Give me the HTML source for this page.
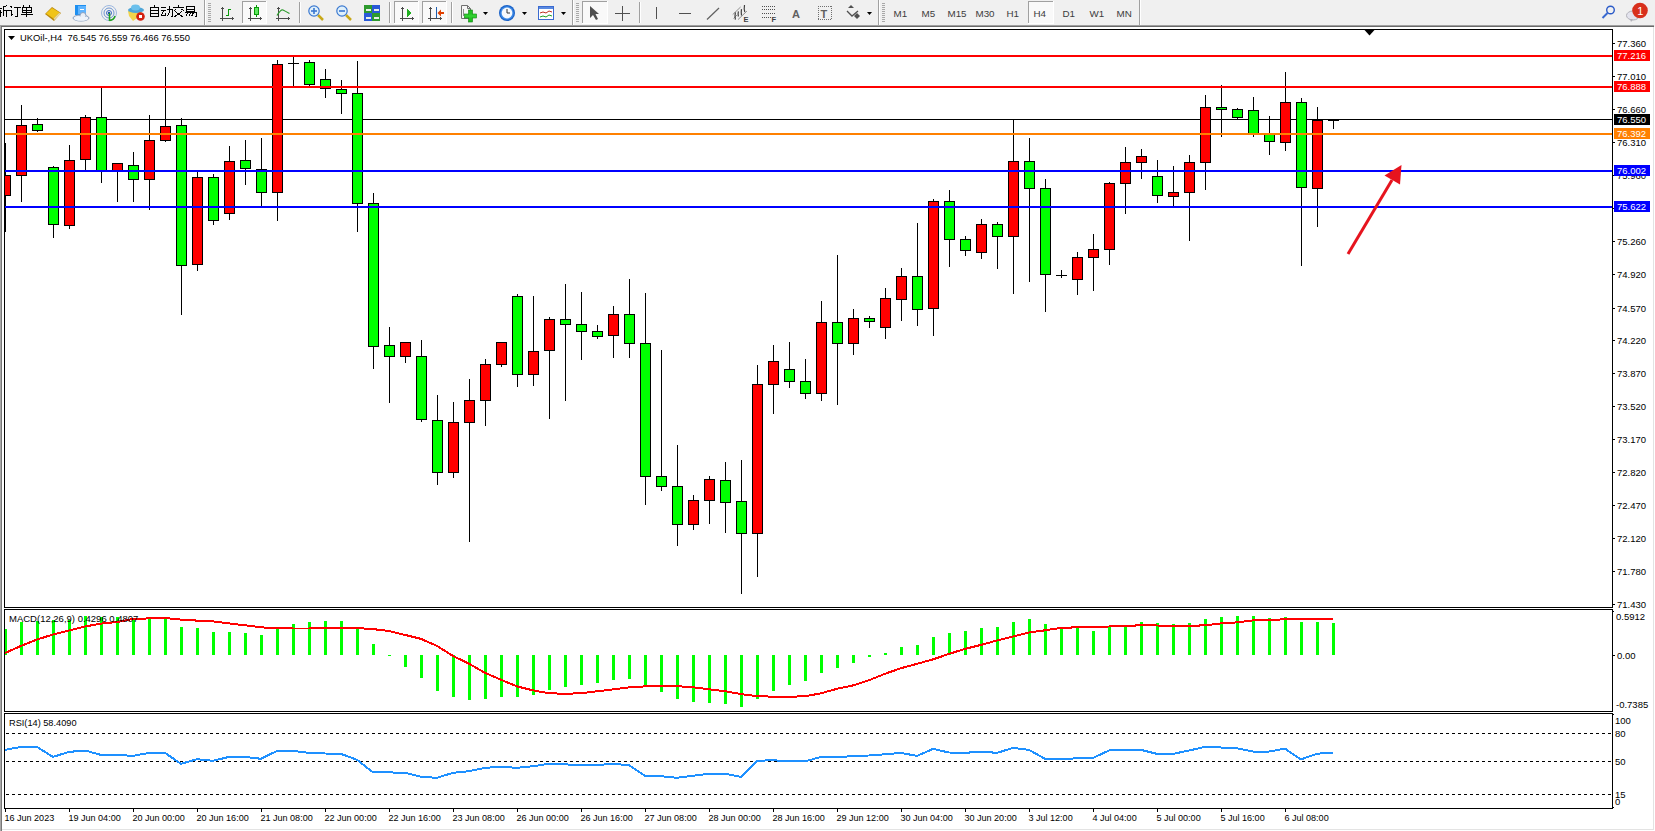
<!DOCTYPE html>
<html><head><meta charset="utf-8"><title>MT4</title>
<style>
html,body{margin:0;padding:0;width:1655px;height:831px;overflow:hidden;background:#f0f0f0;}
svg{position:absolute;left:0;top:0;display:block;}
text{font-family:"Liberation Sans",sans-serif;}
</style></head><body>
<svg width="1655" height="831" viewBox="0 0 1655 831" shape-rendering="crispEdges">
<rect x="0" y="0" width="1655" height="25" fill="#f0f0f0"/>
<path d="M0,8.5H2 M0,12.5H2 M0.5,10V17 M7,5.5L3.5,7 M3.5,7V11 M3,10.5H11 M3.5,11L3,16.5 M6.5,10.5V17 M10.5,6L12,7.5 M11.5,10V15.5L13,14 M13.5,7.5H21 M17.5,7.5V16.5H15 M23,5.5L24,7 M30,5.5L29,7 M22.5,7.5H31.5V12.5H22.5Z M22.5,10H31.5 M26.5,7.5V17 M21,14.5H33" stroke="#000" stroke-width="1" fill="none"/>
<path d="M154.5,5V7 M150.5,7.5H158.5V16.5H150.5Z M150.5,10.5H158.5 M150.5,13.5H158.5 M161,7.5H166 M161,10.5H166 M163.5,10.5L161.5,15.5H166 M165,13.5L166,15.5 M167,9.5H172.5V16L171,17 M169.5,6V12L167.5,16.5 M178.5,5V7 M173,7.5H184 M176,9L174,11 M181.5,9L184,11 M175,11.5L183,17 M182,11.5L174,17 M186.5,6.5H194.5V11.5H186.5Z M186.5,9H194.5 M185,12.5H196V16.5L195,17 M188,12.5L186,16 M191,12.5L188.5,16.5 M193.5,12.5L191.5,16.5" stroke="#000" stroke-width="1" fill="none"/>
<g shape-rendering="geometricPrecision"><polygon points="45,14 52,7 61,13 54,21" fill="#b8860b"/><polygon points="46,13.5 52,8 59.5,12.5 53.5,18.5" fill="#f0c419"/><polygon points="53.5,18.5 59.5,12.5 60.5,14 54.5,20" fill="#e8d9a0"/></g>
<g shape-rendering="geometricPrecision"><rect x="75" y="5" width="11" height="10" fill="#1e8ff0"/><rect x="78" y="6" width="8" height="8" fill="#5fb4ff"/><rect x="80" y="9" width="4" height="1" fill="#ffffff"/><ellipse cx="81" cy="18" rx="8" ry="3" fill="#e8eef6" stroke="#8aa0c0"/><circle cx="83" cy="15.5" r="3" fill="#e8eef6" stroke="#8aa0c0"/><ellipse cx="81" cy="18.5" rx="7" ry="2.3" fill="#eef3fa"/></g>
<g shape-rendering="geometricPrecision" fill="none"><circle cx="109" cy="13" r="7.5" stroke="#9db8e0" stroke-width="1"/><circle cx="109" cy="13" r="5" stroke="#6d94d0" stroke-width="1"/><circle cx="109" cy="13" r="2.5" stroke="#3d6cc0" stroke-width="1"/><circle cx="109" cy="13" r="1.2" fill="#1e50b0"/><path d="M109.5,13V21 M109.5,20.5Q114,20 115,16" stroke="#20a020" stroke-width="1.5"/></g>
<g shape-rendering="geometricPrecision"><polygon points="128,11 142,11 140,16 133,21 129,16" fill="#f2d44c"/><ellipse cx="136" cy="10" rx="8" ry="3" fill="#4fa6d8"/><ellipse cx="135.5" cy="7.5" rx="4.5" ry="3" fill="#6cc0ec"/><circle cx="140.5" cy="16.5" r="4.3" fill="#d42010"/><rect x="139" y="15" width="3" height="3" fill="#fff"/></g>
<rect x="204" y="0" width="1" height="25" fill="#a0a0a0"/>
<rect x="205" y="0" width="1" height="25" fill="#ffffff"/>
<rect x="208" y="3" width="3" height="1" fill="#a8a8a8"/>
<rect x="208" y="5" width="3" height="1" fill="#a8a8a8"/>
<rect x="208" y="7" width="3" height="1" fill="#a8a8a8"/>
<rect x="208" y="9" width="3" height="1" fill="#a8a8a8"/>
<rect x="208" y="11" width="3" height="1" fill="#a8a8a8"/>
<rect x="208" y="13" width="3" height="1" fill="#a8a8a8"/>
<rect x="208" y="15" width="3" height="1" fill="#a8a8a8"/>
<rect x="208" y="17" width="3" height="1" fill="#a8a8a8"/>
<rect x="208" y="19" width="3" height="1" fill="#a8a8a8"/>
<rect x="208" y="21" width="3" height="1" fill="#a8a8a8"/>
<g fill="#4a4a4a"><rect x="222" y="7" width="1" height="14"/><rect x="220" y="18" width="14" height="1"/><rect x="221" y="8" width="3" height="1"/><rect x="232" y="17" width="1" height="3"/></g>
<path d="M228.5,9V16 M228.5,9.5H231 M226,15.5H228.5" stroke="#0a9a0a" stroke-width="1" fill="none"/>
<rect x="242" y="1" width="25" height="23" fill="#f9f9f9"/>
<rect x="242" y="1" width="24" height="1" fill="#a0a0a0"/>
<rect x="242" y="1" width="1" height="22" fill="#a0a0a0"/>
<rect x="266" y="1" width="1" height="23" fill="#ffffff"/>
<rect x="242" y="23" width="25" height="1" fill="#ffffff"/>
<g fill="#4a4a4a"><rect x="250" y="7" width="1" height="14"/><rect x="248" y="18" width="14" height="1"/><rect x="249" y="8" width="3" height="1"/><rect x="260" y="17" width="1" height="3"/></g>
<path d="M256.5,5V17" stroke="#0a9a0a"/><rect x="254.5" y="7.5" width="4" height="7" fill="#60e860" stroke="#0a9a0a"/>
<g fill="#4a4a4a"><rect x="278" y="7" width="1" height="14"/><rect x="276" y="18" width="14" height="1"/><rect x="277" y="8" width="3" height="1"/><rect x="288" y="17" width="1" height="3"/></g>
<path d="M277,15.5 Q281,9 283,10 T289.5,13.5" stroke="#2a9a2a" fill="none" stroke-width="1.2" shape-rendering="geometricPrecision"/>
<rect x="299" y="2" width="1" height="21" fill="#a0a0a0"/>
<rect x="300" y="2" width="1" height="21" fill="#ffffff"/>
<g shape-rendering="geometricPrecision"><line x1="318" y1="15" x2="323" y2="20" stroke="#c8a818" stroke-width="2.5"/><circle cx="314" cy="11" r="5.2" fill="#dff0fb" stroke="#3a78d0" stroke-width="1.2"/><rect x="311" y="10.2" width="6" height="1.6" fill="#3a78d0"/><rect x="313.2" y="8" width="1.6" height="6" fill="#3a78d0"/></g>
<g shape-rendering="geometricPrecision"><line x1="346" y1="15" x2="351" y2="20" stroke="#c8a818" stroke-width="2.5"/><circle cx="342" cy="11" r="5.2" fill="#dff0fb" stroke="#3a78d0" stroke-width="1.2"/><rect x="339" y="10.2" width="6" height="1.6" fill="#3a78d0"/></g>
<rect x="364" y="5" width="8" height="8" fill="#2e9a2e"/>
<rect x="372" y="5" width="8" height="8" fill="#2a5ad8"/>
<rect x="364" y="13" width="8" height="8" fill="#2a5ad8"/>
<rect x="372" y="13" width="8" height="8" fill="#2e9a2e"/>
<rect x="366" y="9" width="5" height="2" fill="#e8f0e8"/>
<rect x="374" y="9" width="5" height="2" fill="#e8f0e8"/>
<rect x="366" y="17" width="5" height="2" fill="#e8f0e8"/>
<rect x="374" y="17" width="5" height="2" fill="#e8f0e8"/>
<rect x="389" y="2" width="1" height="21" fill="#a0a0a0"/>
<rect x="390" y="2" width="1" height="21" fill="#ffffff"/>
<rect x="394" y="1" width="25" height="23" fill="#f9f9f9"/>
<rect x="394" y="1" width="24" height="1" fill="#a0a0a0"/>
<rect x="394" y="1" width="1" height="22" fill="#a0a0a0"/>
<rect x="418" y="1" width="1" height="23" fill="#ffffff"/>
<rect x="394" y="23" width="25" height="1" fill="#ffffff"/>
<g fill="#4a4a4a"><rect x="402" y="7" width="1" height="14"/><rect x="400" y="18" width="14" height="1"/><rect x="401" y="8" width="3" height="1"/><rect x="412" y="17" width="1" height="3"/></g>
<polygon points="407,9 407,17 411.5,13" fill="#20b020"/>
<rect x="422" y="1" width="25" height="23" fill="#f9f9f9"/>
<rect x="422" y="1" width="24" height="1" fill="#a0a0a0"/>
<rect x="422" y="1" width="1" height="22" fill="#a0a0a0"/>
<rect x="446" y="1" width="1" height="23" fill="#ffffff"/>
<rect x="422" y="23" width="25" height="1" fill="#ffffff"/>
<g fill="#4a4a4a"><rect x="430" y="7" width="1" height="14"/><rect x="428" y="18" width="14" height="1"/><rect x="429" y="8" width="3" height="1"/><rect x="440" y="17" width="1" height="3"/></g>
<path d="M436.5,7V18" stroke="#2060b0"/><polygon points="437.5,13 441,9.5 441,12 444,12 444,14 441,14 441,16.5" fill="#e04000" shape-rendering="geometricPrecision"/>
<rect x="451" y="2" width="1" height="21" fill="#a0a0a0"/>
<rect x="452" y="2" width="1" height="21" fill="#ffffff"/>
<g shape-rendering="geometricPrecision"><path d="M461.5,5.5H467.5L470.5,8.5V18.5H461.5Z" fill="#f6f6f6" stroke="#707070"/><path d="M467.5,5.5V8.5H470.5" fill="none" stroke="#707070"/><path d="M463.5,9V16" stroke="#909090"/><rect x="464.5" y="14" width="12" height="4" fill="#22c022" stroke="#108010" stroke-width="0.6"/><rect x="468.5" y="10" width="4" height="12" fill="#22c022" stroke="#108010" stroke-width="0.6"/><rect x="465" y="14.5" width="11" height="3" fill="#30d030"/></g>
<polygon points="483,12 488,12 485.5,15" fill="#000" shape-rendering="geometricPrecision"/>
<g shape-rendering="geometricPrecision"><circle cx="507" cy="13" r="8" fill="#1a62c8"/><circle cx="507" cy="13" r="6.8" fill="#3d8ae6"/><circle cx="507" cy="13" r="5.4" fill="#f6f9fd"/><path d="M507,9V13H510" stroke="#333" stroke-width="1" fill="none"/></g>
<polygon points="522,12 527,12 524.5,15" fill="#000" shape-rendering="geometricPrecision"/>
<rect x="538.5" y="6.5" width="15" height="13" fill="#ffffff" stroke="#3a6ad0"/><rect x="539" y="7" width="14" height="2" fill="#5a8ae0"/><path d="M540,13L543,12L546,13L549,11L552,12" stroke="#c03020" fill="none" shape-rendering="geometricPrecision"/><path d="M540,17L543,16L546,17L549,15L552,16" stroke="#20a020" fill="none" shape-rendering="geometricPrecision"/>
<polygon points="561,12 566,12 563.5,15" fill="#000" shape-rendering="geometricPrecision"/>
<rect x="572" y="0" width="1" height="25" fill="#a0a0a0"/>
<rect x="573" y="0" width="1" height="25" fill="#ffffff"/>
<rect x="576" y="3" width="3" height="1" fill="#a8a8a8"/>
<rect x="576" y="5" width="3" height="1" fill="#a8a8a8"/>
<rect x="576" y="7" width="3" height="1" fill="#a8a8a8"/>
<rect x="576" y="9" width="3" height="1" fill="#a8a8a8"/>
<rect x="576" y="11" width="3" height="1" fill="#a8a8a8"/>
<rect x="576" y="13" width="3" height="1" fill="#a8a8a8"/>
<rect x="576" y="15" width="3" height="1" fill="#a8a8a8"/>
<rect x="576" y="17" width="3" height="1" fill="#a8a8a8"/>
<rect x="576" y="19" width="3" height="1" fill="#a8a8a8"/>
<rect x="576" y="21" width="3" height="1" fill="#a8a8a8"/>
<rect x="582" y="1" width="26" height="23" fill="#f9f9f9"/>
<rect x="582" y="1" width="25" height="1" fill="#a0a0a0"/>
<rect x="582" y="1" width="1" height="22" fill="#a0a0a0"/>
<rect x="607" y="1" width="1" height="23" fill="#ffffff"/>
<rect x="582" y="23" width="26" height="1" fill="#ffffff"/>
<polygon points="590,6 590,18 593,15 596,20 598,19 595.5,14 599,14" fill="#505050" shape-rendering="geometricPrecision"/>
<path d="M622.5,6V21 M615,13.5H630" stroke="#505050"/>
<rect x="639" y="2" width="1" height="21" fill="#a0a0a0"/>
<rect x="640" y="2" width="1" height="21" fill="#ffffff"/>
<path d="M656.5,7V19" stroke="#505050" stroke-width="1.3"/>
<path d="M679,13.5H691" stroke="#505050" stroke-width="1.3"/>
<path d="M707,19.5L719,8" stroke="#606060" stroke-width="1.2" shape-rendering="geometricPrecision"/>
<g stroke-width="1" fill="none" shape-rendering="geometricPrecision"><path d="M732.7,14.6L740.6,7 M738,19.6L746.9,11.1 M733.5,18.5L737,15" stroke="#909090"/><path d="M735.4,12.4Q734.6,16 735.4,19.6 M738.4,11.4Q737.8,14 738.4,16.5 M741.5,9.2Q740.9,12.5 741.5,15.5 M744.5,5Q743.8,9 744.8,12" stroke="#404040" stroke-width="1.2"/></g>
<text x="743.6" y="22" font-size="7.5" font-weight="bold" fill="#404040" font-family='"Liberation Sans", sans-serif'>E</text>
<rect x="762" y="6" width="1" height="1" fill="#505050"/>
<rect x="764" y="6" width="1" height="1" fill="#505050"/>
<rect x="766" y="6" width="1" height="1" fill="#505050"/>
<rect x="768" y="6" width="1" height="1" fill="#505050"/>
<rect x="770" y="6" width="1" height="1" fill="#505050"/>
<rect x="772" y="6" width="1" height="1" fill="#505050"/>
<rect x="774" y="6" width="1" height="1" fill="#505050"/>
<rect x="762" y="9" width="1" height="1" fill="#505050"/>
<rect x="764" y="9" width="1" height="1" fill="#505050"/>
<rect x="766" y="9" width="1" height="1" fill="#505050"/>
<rect x="768" y="9" width="1" height="1" fill="#505050"/>
<rect x="770" y="9" width="1" height="1" fill="#505050"/>
<rect x="772" y="9" width="1" height="1" fill="#505050"/>
<rect x="774" y="9" width="1" height="1" fill="#505050"/>
<rect x="762" y="13" width="1" height="1" fill="#505050"/>
<rect x="764" y="13" width="1" height="1" fill="#505050"/>
<rect x="766" y="13" width="1" height="1" fill="#505050"/>
<rect x="768" y="13" width="1" height="1" fill="#505050"/>
<rect x="770" y="13" width="1" height="1" fill="#505050"/>
<rect x="772" y="13" width="1" height="1" fill="#505050"/>
<rect x="774" y="13" width="1" height="1" fill="#505050"/>
<rect x="762" y="17" width="1" height="1" fill="#505050"/>
<rect x="764" y="17" width="1" height="1" fill="#505050"/>
<rect x="766" y="17" width="1" height="1" fill="#505050"/>
<rect x="768" y="17" width="1" height="1" fill="#505050"/>
<rect x="770" y="17" width="1" height="1" fill="#505050"/>
<text x="771.6" y="22" font-size="7.5" font-weight="bold" fill="#404040" font-family='"Liberation Sans", sans-serif'>F</text>
<text x="792" y="17.5" font-size="11" font-weight="bold" fill="#606060" font-family='"Liberation Sans", sans-serif'>A</text>
<rect x="818" y="6" width="1" height="1" fill="#707070"/>
<rect x="818" y="19" width="1" height="1" fill="#707070"/>
<rect x="820" y="6" width="1" height="1" fill="#707070"/>
<rect x="820" y="19" width="1" height="1" fill="#707070"/>
<rect x="822" y="6" width="1" height="1" fill="#707070"/>
<rect x="822" y="19" width="1" height="1" fill="#707070"/>
<rect x="824" y="6" width="1" height="1" fill="#707070"/>
<rect x="824" y="19" width="1" height="1" fill="#707070"/>
<rect x="826" y="6" width="1" height="1" fill="#707070"/>
<rect x="826" y="19" width="1" height="1" fill="#707070"/>
<rect x="828" y="6" width="1" height="1" fill="#707070"/>
<rect x="828" y="19" width="1" height="1" fill="#707070"/>
<rect x="830" y="6" width="1" height="1" fill="#707070"/>
<rect x="830" y="19" width="1" height="1" fill="#707070"/>
<rect x="818" y="6" width="1" height="1" fill="#707070"/>
<rect x="831" y="6" width="1" height="1" fill="#707070"/>
<rect x="818" y="8" width="1" height="1" fill="#707070"/>
<rect x="831" y="8" width="1" height="1" fill="#707070"/>
<rect x="818" y="10" width="1" height="1" fill="#707070"/>
<rect x="831" y="10" width="1" height="1" fill="#707070"/>
<rect x="818" y="12" width="1" height="1" fill="#707070"/>
<rect x="831" y="12" width="1" height="1" fill="#707070"/>
<rect x="818" y="14" width="1" height="1" fill="#707070"/>
<rect x="831" y="14" width="1" height="1" fill="#707070"/>
<rect x="818" y="16" width="1" height="1" fill="#707070"/>
<rect x="831" y="16" width="1" height="1" fill="#707070"/>
<rect x="818" y="18" width="1" height="1" fill="#707070"/>
<rect x="831" y="18" width="1" height="1" fill="#707070"/>
<text x="820.5" y="17.5" font-size="11" font-weight="bold" fill="#606060" font-family='"Liberation Sans", sans-serif'>T</text>
<g fill="#505050" shape-rendering="geometricPrecision"><polygon points="848,8 851,5 854,8"/><polygon points="854,16 857,13 860,16 857,19"/><path d="M847,11L852,16L858,11" stroke="#505050" stroke-width="1.3" fill="none"/></g>
<polygon points="867,12 872,12 869.5,15" fill="#000" shape-rendering="geometricPrecision"/>
<rect x="878" y="0" width="1" height="25" fill="#a0a0a0"/>
<rect x="879" y="0" width="1" height="25" fill="#ffffff"/>
<rect x="882" y="3" width="3" height="1" fill="#a8a8a8"/>
<rect x="882" y="5" width="3" height="1" fill="#a8a8a8"/>
<rect x="882" y="7" width="3" height="1" fill="#a8a8a8"/>
<rect x="882" y="9" width="3" height="1" fill="#a8a8a8"/>
<rect x="882" y="11" width="3" height="1" fill="#a8a8a8"/>
<rect x="882" y="13" width="3" height="1" fill="#a8a8a8"/>
<rect x="882" y="15" width="3" height="1" fill="#a8a8a8"/>
<rect x="882" y="17" width="3" height="1" fill="#a8a8a8"/>
<rect x="882" y="19" width="3" height="1" fill="#a8a8a8"/>
<rect x="882" y="21" width="3" height="1" fill="#a8a8a8"/>
<rect x="1028" y="1" width="26" height="23" fill="#f9f9f9"/>
<rect x="1028" y="1" width="25" height="1" fill="#a0a0a0"/>
<rect x="1028" y="1" width="1" height="22" fill="#a0a0a0"/>
<rect x="1053" y="1" width="1" height="23" fill="#ffffff"/>
<rect x="1028" y="23" width="26" height="1" fill="#ffffff"/>
<text x="893.5" y="17" font-size="9.8" fill="#3c3c3c" font-family='"Liberation Sans", sans-serif'>M1</text>
<text x="921.5" y="17" font-size="9.8" fill="#3c3c3c" font-family='"Liberation Sans", sans-serif'>M5</text>
<text x="947.5" y="17" font-size="9.8" fill="#3c3c3c" font-family='"Liberation Sans", sans-serif'>M15</text>
<text x="975.5" y="17" font-size="9.8" fill="#3c3c3c" font-family='"Liberation Sans", sans-serif'>M30</text>
<text x="1006.5" y="17" font-size="9.8" fill="#3c3c3c" font-family='"Liberation Sans", sans-serif'>H1</text>
<text x="1033.5" y="17" font-size="9.8" fill="#3c3c3c" font-family='"Liberation Sans", sans-serif'>H4</text>
<text x="1062.5" y="17" font-size="9.8" fill="#3c3c3c" font-family='"Liberation Sans", sans-serif'>D1</text>
<text x="1089.5" y="17" font-size="9.8" fill="#3c3c3c" font-family='"Liberation Sans", sans-serif'>W1</text>
<text x="1116.5" y="17" font-size="9.8" fill="#3c3c3c" font-family='"Liberation Sans", sans-serif'>MN</text>
<rect x="1139" y="0" width="1" height="25" fill="#a0a0a0"/>
<rect x="1140" y="0" width="1" height="25" fill="#ffffff"/>
<g shape-rendering="geometricPrecision"><circle cx="1610.5" cy="10" r="3.8" fill="none" stroke="#2a5ac8" stroke-width="1.4"/><line x1="1607.5" y1="13" x2="1602.5" y2="18" stroke="#3a6ad0" stroke-width="2"/></g>
<g shape-rendering="geometricPrecision"><ellipse cx="1633" cy="15.5" rx="6.5" ry="4.5" fill="#e4e4ee" stroke="#b0b0b8"/><polygon points="1630,19 1633,19.5 1631,22" fill="#b0b0b8"/><circle cx="1640" cy="10.5" r="7.8" fill="#d8301c"/><text x="1637.3" y="15" font-size="11" fill="#fff" font-family='"Liberation Sans", sans-serif'>1</text></g>
<rect x="0" y="25" width="1" height="806" fill="#a8a8a8"/>
<rect x="1" y="25" width="1" height="806" fill="#787878"/>
<rect x="0" y="25" width="1654" height="1" fill="#a0a0a0"/>
<rect x="1" y="26" width="1653" height="1" fill="#696969"/>
<rect x="2" y="27" width="1651" height="802" fill="#ffffff"/>
<rect x="1653" y="27" width="1" height="803" fill="#e3e3e3"/>
<rect x="2" y="829" width="1652" height="1" fill="#e3e3e3"/>
<rect x="2" y="830" width="1653" height="1" fill="#ffffff"/>
<rect x="1654" y="27" width="1" height="804" fill="#ffffff"/>
<rect x="4" y="29" width="1609" height="1" fill="#000"/>
<rect x="4" y="607" width="1609" height="1" fill="#000"/>
<rect x="4" y="29" width="1" height="579" fill="#000"/>
<rect x="1612" y="29" width="1" height="579" fill="#000"/>
<rect x="4" y="609" width="1609" height="1" fill="#000"/>
<rect x="4" y="711" width="1609" height="1" fill="#000"/>
<rect x="4" y="609" width="1" height="103" fill="#000"/>
<rect x="1612" y="609" width="1" height="103" fill="#000"/>
<rect x="4" y="713" width="1609" height="1" fill="#000"/>
<rect x="4" y="808" width="1609" height="1" fill="#000"/>
<rect x="4" y="713" width="1" height="96" fill="#000"/>
<rect x="1612" y="713" width="1" height="96" fill="#000"/>
<defs><clipPath id="cm"><rect x="5" y="30" width="1607" height="577"/></clipPath><clipPath id="cd"><rect x="5" y="610" width="1607" height="101"/></clipPath><clipPath id="cr"><rect x="5" y="714" width="1607" height="94"/></clipPath></defs>
<g clip-path="url(#cm)">
<rect x="5" y="119" width="1607" height="1" fill="#000000"/>
<rect x="5" y="143" width="1" height="89" fill="#000"/>
<rect x="0" y="175" width="11" height="21" fill="#000"/>
<rect x="1" y="176" width="9" height="19" fill="#ff0000"/>
<rect x="21" y="105" width="1" height="97" fill="#000"/>
<rect x="16" y="125" width="11" height="51" fill="#000"/>
<rect x="17" y="126" width="9" height="49" fill="#ff0000"/>
<rect x="37" y="118" width="1" height="14" fill="#000"/>
<rect x="32" y="124" width="11" height="7" fill="#000"/>
<rect x="33" y="125" width="9" height="5" fill="#00ff00"/>
<rect x="53" y="166" width="1" height="72" fill="#000"/>
<rect x="48" y="167" width="11" height="58" fill="#000"/>
<rect x="49" y="168" width="9" height="56" fill="#00ff00"/>
<rect x="69" y="145" width="1" height="84" fill="#000"/>
<rect x="64" y="160" width="11" height="66" fill="#000"/>
<rect x="65" y="161" width="9" height="64" fill="#ff0000"/>
<rect x="85" y="115" width="1" height="55" fill="#000"/>
<rect x="80" y="117" width="11" height="43" fill="#000"/>
<rect x="81" y="118" width="9" height="41" fill="#ff0000"/>
<rect x="101" y="88" width="1" height="95" fill="#000"/>
<rect x="96" y="117" width="11" height="54" fill="#000"/>
<rect x="97" y="118" width="9" height="52" fill="#00ff00"/>
<rect x="117" y="163" width="1" height="39" fill="#000"/>
<rect x="112" y="163" width="11" height="8" fill="#000"/>
<rect x="113" y="164" width="9" height="6" fill="#ff0000"/>
<rect x="133" y="152" width="1" height="50" fill="#000"/>
<rect x="128" y="165" width="11" height="15" fill="#000"/>
<rect x="129" y="166" width="9" height="13" fill="#00ff00"/>
<rect x="149" y="115" width="1" height="95" fill="#000"/>
<rect x="144" y="140" width="11" height="40" fill="#000"/>
<rect x="145" y="141" width="9" height="38" fill="#ff0000"/>
<rect x="165" y="67" width="1" height="75" fill="#000"/>
<rect x="160" y="126" width="11" height="15" fill="#000"/>
<rect x="161" y="127" width="9" height="13" fill="#ff0000"/>
<rect x="181" y="118" width="1" height="197" fill="#000"/>
<rect x="176" y="125" width="11" height="141" fill="#000"/>
<rect x="177" y="126" width="9" height="139" fill="#00ff00"/>
<rect x="197" y="172" width="1" height="99" fill="#000"/>
<rect x="192" y="177" width="11" height="88" fill="#000"/>
<rect x="193" y="178" width="9" height="86" fill="#ff0000"/>
<rect x="213" y="174" width="1" height="51" fill="#000"/>
<rect x="208" y="177" width="11" height="44" fill="#000"/>
<rect x="209" y="178" width="9" height="42" fill="#00ff00"/>
<rect x="229" y="146" width="1" height="74" fill="#000"/>
<rect x="224" y="161" width="11" height="53" fill="#000"/>
<rect x="225" y="162" width="9" height="51" fill="#ff0000"/>
<rect x="245" y="140" width="1" height="45" fill="#000"/>
<rect x="240" y="160" width="11" height="9" fill="#000"/>
<rect x="241" y="161" width="9" height="7" fill="#00ff00"/>
<rect x="261" y="138" width="1" height="69" fill="#000"/>
<rect x="256" y="169" width="11" height="24" fill="#000"/>
<rect x="257" y="170" width="9" height="22" fill="#00ff00"/>
<rect x="277" y="60" width="1" height="161" fill="#000"/>
<rect x="272" y="64" width="11" height="129" fill="#000"/>
<rect x="273" y="65" width="9" height="127" fill="#ff0000"/>
<rect x="293" y="57" width="1" height="30" fill="#000"/>
<rect x="288" y="63" width="11" height="1" fill="#000"/>
<rect x="309" y="60" width="1" height="27" fill="#000"/>
<rect x="304" y="62" width="11" height="23" fill="#000"/>
<rect x="305" y="63" width="9" height="21" fill="#00ff00"/>
<rect x="325" y="69" width="1" height="29" fill="#000"/>
<rect x="320" y="79" width="11" height="10" fill="#000"/>
<rect x="321" y="80" width="9" height="8" fill="#00ff00"/>
<rect x="341" y="80" width="1" height="34" fill="#000"/>
<rect x="336" y="89" width="11" height="5" fill="#000"/>
<rect x="337" y="90" width="9" height="3" fill="#00ff00"/>
<rect x="357" y="61" width="1" height="171" fill="#000"/>
<rect x="352" y="93" width="11" height="111" fill="#000"/>
<rect x="353" y="94" width="9" height="109" fill="#00ff00"/>
<rect x="373" y="193" width="1" height="176" fill="#000"/>
<rect x="368" y="203" width="11" height="144" fill="#000"/>
<rect x="369" y="204" width="9" height="142" fill="#00ff00"/>
<rect x="389" y="327" width="1" height="76" fill="#000"/>
<rect x="384" y="345" width="11" height="12" fill="#000"/>
<rect x="385" y="346" width="9" height="10" fill="#00ff00"/>
<rect x="405" y="342" width="1" height="21" fill="#000"/>
<rect x="400" y="342" width="11" height="15" fill="#000"/>
<rect x="401" y="343" width="9" height="13" fill="#ff0000"/>
<rect x="421" y="340" width="1" height="82" fill="#000"/>
<rect x="416" y="356" width="11" height="64" fill="#000"/>
<rect x="417" y="357" width="9" height="62" fill="#00ff00"/>
<rect x="437" y="395" width="1" height="90" fill="#000"/>
<rect x="432" y="420" width="11" height="53" fill="#000"/>
<rect x="433" y="421" width="9" height="51" fill="#00ff00"/>
<rect x="453" y="402" width="1" height="76" fill="#000"/>
<rect x="448" y="422" width="11" height="51" fill="#000"/>
<rect x="449" y="423" width="9" height="49" fill="#ff0000"/>
<rect x="469" y="379" width="1" height="163" fill="#000"/>
<rect x="464" y="400" width="11" height="23" fill="#000"/>
<rect x="465" y="401" width="9" height="21" fill="#ff0000"/>
<rect x="485" y="359" width="1" height="67" fill="#000"/>
<rect x="480" y="364" width="11" height="37" fill="#000"/>
<rect x="481" y="365" width="9" height="35" fill="#ff0000"/>
<rect x="501" y="342" width="1" height="25" fill="#000"/>
<rect x="496" y="342" width="11" height="23" fill="#000"/>
<rect x="497" y="343" width="9" height="21" fill="#ff0000"/>
<rect x="517" y="294" width="1" height="93" fill="#000"/>
<rect x="512" y="296" width="11" height="79" fill="#000"/>
<rect x="513" y="297" width="9" height="77" fill="#00ff00"/>
<rect x="533" y="296" width="1" height="90" fill="#000"/>
<rect x="528" y="351" width="11" height="24" fill="#000"/>
<rect x="529" y="352" width="9" height="22" fill="#ff0000"/>
<rect x="549" y="317" width="1" height="102" fill="#000"/>
<rect x="544" y="319" width="11" height="32" fill="#000"/>
<rect x="545" y="320" width="9" height="30" fill="#ff0000"/>
<rect x="565" y="284" width="1" height="117" fill="#000"/>
<rect x="560" y="319" width="11" height="6" fill="#000"/>
<rect x="561" y="320" width="9" height="4" fill="#00ff00"/>
<rect x="581" y="292" width="1" height="68" fill="#000"/>
<rect x="576" y="324" width="11" height="8" fill="#000"/>
<rect x="577" y="325" width="9" height="6" fill="#00ff00"/>
<rect x="597" y="325" width="1" height="14" fill="#000"/>
<rect x="592" y="331" width="11" height="6" fill="#000"/>
<rect x="593" y="332" width="9" height="4" fill="#00ff00"/>
<rect x="613" y="306" width="1" height="52" fill="#000"/>
<rect x="608" y="314" width="11" height="22" fill="#000"/>
<rect x="609" y="315" width="9" height="20" fill="#ff0000"/>
<rect x="629" y="279" width="1" height="79" fill="#000"/>
<rect x="624" y="314" width="11" height="30" fill="#000"/>
<rect x="625" y="315" width="9" height="28" fill="#00ff00"/>
<rect x="645" y="293" width="1" height="212" fill="#000"/>
<rect x="640" y="343" width="11" height="134" fill="#000"/>
<rect x="641" y="344" width="9" height="132" fill="#00ff00"/>
<rect x="661" y="350" width="1" height="141" fill="#000"/>
<rect x="656" y="476" width="11" height="11" fill="#000"/>
<rect x="657" y="477" width="9" height="9" fill="#00ff00"/>
<rect x="677" y="445" width="1" height="101" fill="#000"/>
<rect x="672" y="486" width="11" height="39" fill="#000"/>
<rect x="673" y="487" width="9" height="37" fill="#00ff00"/>
<rect x="693" y="495" width="1" height="35" fill="#000"/>
<rect x="688" y="500" width="11" height="25" fill="#000"/>
<rect x="689" y="501" width="9" height="23" fill="#ff0000"/>
<rect x="709" y="476" width="1" height="48" fill="#000"/>
<rect x="704" y="479" width="11" height="22" fill="#000"/>
<rect x="705" y="480" width="9" height="20" fill="#ff0000"/>
<rect x="725" y="462" width="1" height="71" fill="#000"/>
<rect x="720" y="480" width="11" height="23" fill="#000"/>
<rect x="721" y="481" width="9" height="21" fill="#00ff00"/>
<rect x="741" y="460" width="1" height="134" fill="#000"/>
<rect x="736" y="501" width="11" height="33" fill="#000"/>
<rect x="737" y="502" width="9" height="31" fill="#00ff00"/>
<rect x="757" y="365" width="1" height="212" fill="#000"/>
<rect x="752" y="384" width="11" height="150" fill="#000"/>
<rect x="753" y="385" width="9" height="148" fill="#ff0000"/>
<rect x="773" y="345" width="1" height="69" fill="#000"/>
<rect x="768" y="361" width="11" height="24" fill="#000"/>
<rect x="769" y="362" width="9" height="22" fill="#ff0000"/>
<rect x="789" y="342" width="1" height="46" fill="#000"/>
<rect x="784" y="369" width="11" height="13" fill="#000"/>
<rect x="785" y="370" width="9" height="11" fill="#00ff00"/>
<rect x="805" y="359" width="1" height="40" fill="#000"/>
<rect x="800" y="381" width="11" height="13" fill="#000"/>
<rect x="801" y="382" width="9" height="11" fill="#00ff00"/>
<rect x="821" y="301" width="1" height="100" fill="#000"/>
<rect x="816" y="322" width="11" height="72" fill="#000"/>
<rect x="817" y="323" width="9" height="70" fill="#ff0000"/>
<rect x="837" y="255" width="1" height="150" fill="#000"/>
<rect x="832" y="322" width="11" height="22" fill="#000"/>
<rect x="833" y="323" width="9" height="20" fill="#00ff00"/>
<rect x="853" y="309" width="1" height="46" fill="#000"/>
<rect x="848" y="318" width="11" height="26" fill="#000"/>
<rect x="849" y="319" width="9" height="24" fill="#ff0000"/>
<rect x="869" y="316" width="1" height="12" fill="#000"/>
<rect x="864" y="318" width="11" height="4" fill="#000"/>
<rect x="865" y="319" width="9" height="2" fill="#00ff00"/>
<rect x="885" y="288" width="1" height="51" fill="#000"/>
<rect x="880" y="298" width="11" height="30" fill="#000"/>
<rect x="881" y="299" width="9" height="28" fill="#ff0000"/>
<rect x="901" y="268" width="1" height="53" fill="#000"/>
<rect x="896" y="276" width="11" height="24" fill="#000"/>
<rect x="897" y="277" width="9" height="22" fill="#ff0000"/>
<rect x="917" y="223" width="1" height="103" fill="#000"/>
<rect x="912" y="276" width="11" height="34" fill="#000"/>
<rect x="913" y="277" width="9" height="32" fill="#00ff00"/>
<rect x="933" y="199" width="1" height="137" fill="#000"/>
<rect x="928" y="201" width="11" height="108" fill="#000"/>
<rect x="929" y="202" width="9" height="106" fill="#ff0000"/>
<rect x="949" y="190" width="1" height="77" fill="#000"/>
<rect x="944" y="201" width="11" height="39" fill="#000"/>
<rect x="945" y="202" width="9" height="37" fill="#00ff00"/>
<rect x="965" y="236" width="1" height="20" fill="#000"/>
<rect x="960" y="239" width="11" height="12" fill="#000"/>
<rect x="961" y="240" width="9" height="10" fill="#00ff00"/>
<rect x="981" y="219" width="1" height="40" fill="#000"/>
<rect x="976" y="224" width="11" height="29" fill="#000"/>
<rect x="977" y="225" width="9" height="27" fill="#ff0000"/>
<rect x="997" y="222" width="1" height="47" fill="#000"/>
<rect x="992" y="224" width="11" height="13" fill="#000"/>
<rect x="993" y="225" width="9" height="11" fill="#00ff00"/>
<rect x="1013" y="119" width="1" height="175" fill="#000"/>
<rect x="1008" y="161" width="11" height="76" fill="#000"/>
<rect x="1009" y="162" width="9" height="74" fill="#ff0000"/>
<rect x="1029" y="138" width="1" height="144" fill="#000"/>
<rect x="1024" y="161" width="11" height="28" fill="#000"/>
<rect x="1025" y="162" width="9" height="26" fill="#00ff00"/>
<rect x="1045" y="179" width="1" height="133" fill="#000"/>
<rect x="1040" y="188" width="11" height="87" fill="#000"/>
<rect x="1041" y="189" width="9" height="85" fill="#00ff00"/>
<rect x="1061" y="270" width="1" height="8" fill="#000"/>
<rect x="1056" y="275" width="11" height="1" fill="#000"/>
<rect x="1077" y="252" width="1" height="43" fill="#000"/>
<rect x="1072" y="257" width="11" height="23" fill="#000"/>
<rect x="1073" y="258" width="9" height="21" fill="#ff0000"/>
<rect x="1093" y="234" width="1" height="57" fill="#000"/>
<rect x="1088" y="249" width="11" height="9" fill="#000"/>
<rect x="1089" y="250" width="9" height="7" fill="#ff0000"/>
<rect x="1109" y="182" width="1" height="83" fill="#000"/>
<rect x="1104" y="183" width="11" height="67" fill="#000"/>
<rect x="1105" y="184" width="9" height="65" fill="#ff0000"/>
<rect x="1125" y="147" width="1" height="67" fill="#000"/>
<rect x="1120" y="162" width="11" height="22" fill="#000"/>
<rect x="1121" y="163" width="9" height="20" fill="#ff0000"/>
<rect x="1141" y="149" width="1" height="30" fill="#000"/>
<rect x="1136" y="156" width="11" height="7" fill="#000"/>
<rect x="1137" y="157" width="9" height="5" fill="#ff0000"/>
<rect x="1157" y="160" width="1" height="43" fill="#000"/>
<rect x="1152" y="176" width="11" height="20" fill="#000"/>
<rect x="1153" y="177" width="9" height="18" fill="#00ff00"/>
<rect x="1173" y="166" width="1" height="40" fill="#000"/>
<rect x="1168" y="192" width="11" height="5" fill="#000"/>
<rect x="1169" y="193" width="9" height="3" fill="#ff0000"/>
<rect x="1189" y="155" width="1" height="86" fill="#000"/>
<rect x="1184" y="162" width="11" height="31" fill="#000"/>
<rect x="1185" y="163" width="9" height="29" fill="#ff0000"/>
<rect x="1205" y="95" width="1" height="95" fill="#000"/>
<rect x="1200" y="107" width="11" height="56" fill="#000"/>
<rect x="1201" y="108" width="9" height="54" fill="#ff0000"/>
<rect x="1221" y="85" width="1" height="52" fill="#000"/>
<rect x="1216" y="107" width="11" height="3" fill="#000"/>
<rect x="1217" y="108" width="9" height="1" fill="#00ff00"/>
<rect x="1237" y="108" width="1" height="12" fill="#000"/>
<rect x="1232" y="109" width="11" height="9" fill="#000"/>
<rect x="1233" y="110" width="9" height="7" fill="#00ff00"/>
<rect x="1253" y="97" width="1" height="40" fill="#000"/>
<rect x="1248" y="110" width="11" height="24" fill="#000"/>
<rect x="1249" y="111" width="9" height="22" fill="#00ff00"/>
<rect x="1269" y="116" width="1" height="39" fill="#000"/>
<rect x="1264" y="134" width="11" height="8" fill="#000"/>
<rect x="1265" y="135" width="9" height="6" fill="#00ff00"/>
<rect x="1285" y="72" width="1" height="79" fill="#000"/>
<rect x="1280" y="102" width="11" height="41" fill="#000"/>
<rect x="1281" y="103" width="9" height="39" fill="#ff0000"/>
<rect x="1301" y="98" width="1" height="168" fill="#000"/>
<rect x="1296" y="102" width="11" height="86" fill="#000"/>
<rect x="1297" y="103" width="9" height="84" fill="#00ff00"/>
<rect x="1317" y="107" width="1" height="120" fill="#000"/>
<rect x="1312" y="120" width="11" height="69" fill="#000"/>
<rect x="1313" y="121" width="9" height="67" fill="#ff0000"/>
<rect x="1333" y="119" width="1" height="10" fill="#000"/>
<rect x="1328" y="120" width="11" height="1" fill="#000"/>
<rect x="5" y="55" width="1607" height="2" fill="#ff0000"/>
<rect x="5" y="86" width="1607" height="2" fill="#ff0000"/>
<rect x="5" y="133" width="1607" height="2" fill="#ff8000"/>
<rect x="5" y="170" width="1607" height="2" fill="#0000ff"/>
<rect x="5" y="206" width="1607" height="2" fill="#0000ff"/>
<polygon points="1364.5,30 1374.5,30 1369.5,35.5" fill="#000" shape-rendering="geometricPrecision"/>
<g shape-rendering="geometricPrecision"><line x1="1348" y1="254" x2="1392" y2="180" stroke="#e6141e" stroke-width="3"/><polygon points="1401.5,165 1384.5,175.5 1400,184.5" fill="#e6141e"/></g>
</g>
<polygon points="8,36 15,36 11.5,40" fill="#000" shape-rendering="geometricPrecision"/>
<text transform="translate(20,41) scale(0.988,1)" font-size="9.5" fill="#000" xml:space="preserve" font-family='"Liberation Sans", sans-serif'>UKOil-,H4  76.545 76.559 76.466 76.550</text>
<rect x="1613" y="43" width="2" height="1" fill="#000"/>
<text x="1617" y="46.5" font-size="9.5" fill="#000" font-family='"Liberation Sans", sans-serif'>77.360</text>
<rect x="1613" y="76" width="2" height="1" fill="#000"/>
<text x="1617" y="79.5" font-size="9.5" fill="#000" font-family='"Liberation Sans", sans-serif'>77.010</text>
<rect x="1613" y="109" width="2" height="1" fill="#000"/>
<text x="1617" y="112.5" font-size="9.5" fill="#000" font-family='"Liberation Sans", sans-serif'>76.660</text>
<rect x="1613" y="142" width="2" height="1" fill="#000"/>
<text x="1617" y="145.5" font-size="9.5" fill="#000" font-family='"Liberation Sans", sans-serif'>76.310</text>
<rect x="1613" y="175" width="2" height="1" fill="#000"/>
<text x="1617" y="178.5" font-size="9.5" fill="#000" font-family='"Liberation Sans", sans-serif'>75.960</text>
<rect x="1613" y="208" width="2" height="1" fill="#000"/>
<text x="1617" y="211.5" font-size="9.5" fill="#000" font-family='"Liberation Sans", sans-serif'>75.610</text>
<rect x="1613" y="241" width="2" height="1" fill="#000"/>
<text x="1617" y="244.5" font-size="9.5" fill="#000" font-family='"Liberation Sans", sans-serif'>75.260</text>
<rect x="1613" y="274" width="2" height="1" fill="#000"/>
<text x="1617" y="277.5" font-size="9.5" fill="#000" font-family='"Liberation Sans", sans-serif'>74.920</text>
<rect x="1613" y="308" width="2" height="1" fill="#000"/>
<text x="1617" y="311.5" font-size="9.5" fill="#000" font-family='"Liberation Sans", sans-serif'>74.570</text>
<rect x="1613" y="340" width="2" height="1" fill="#000"/>
<text x="1617" y="343.5" font-size="9.5" fill="#000" font-family='"Liberation Sans", sans-serif'>74.220</text>
<rect x="1613" y="373" width="2" height="1" fill="#000"/>
<text x="1617" y="376.5" font-size="9.5" fill="#000" font-family='"Liberation Sans", sans-serif'>73.870</text>
<rect x="1613" y="406" width="2" height="1" fill="#000"/>
<text x="1617" y="409.5" font-size="9.5" fill="#000" font-family='"Liberation Sans", sans-serif'>73.520</text>
<rect x="1613" y="439" width="2" height="1" fill="#000"/>
<text x="1617" y="442.5" font-size="9.5" fill="#000" font-family='"Liberation Sans", sans-serif'>73.170</text>
<rect x="1613" y="472" width="2" height="1" fill="#000"/>
<text x="1617" y="475.5" font-size="9.5" fill="#000" font-family='"Liberation Sans", sans-serif'>72.820</text>
<rect x="1613" y="505" width="2" height="1" fill="#000"/>
<text x="1617" y="508.5" font-size="9.5" fill="#000" font-family='"Liberation Sans", sans-serif'>72.470</text>
<rect x="1613" y="538" width="2" height="1" fill="#000"/>
<text x="1617" y="541.5" font-size="9.5" fill="#000" font-family='"Liberation Sans", sans-serif'>72.120</text>
<rect x="1613" y="571" width="2" height="1" fill="#000"/>
<text x="1617" y="574.5" font-size="9.5" fill="#000" font-family='"Liberation Sans", sans-serif'>71.780</text>
<rect x="1613" y="604" width="2" height="1" fill="#000"/>
<text x="1617" y="607.5" font-size="9.5" fill="#000" font-family='"Liberation Sans", sans-serif'>71.430</text>
<rect x="1614" y="50" width="36" height="11" fill="#ff0000"/>
<text x="1617" y="59" font-size="9.5" fill="#fff" font-family='"Liberation Sans", sans-serif'>77.216</text>
<rect x="1614" y="81" width="36" height="11" fill="#ff0000"/>
<text x="1617" y="90" font-size="9.5" fill="#fff" font-family='"Liberation Sans", sans-serif'>76.888</text>
<rect x="1614" y="114" width="36" height="11" fill="#000000"/>
<text x="1617" y="123" font-size="9.5" fill="#fff" font-family='"Liberation Sans", sans-serif'>76.550</text>
<rect x="1614" y="128" width="36" height="11" fill="#ff8000"/>
<text x="1617" y="137" font-size="9.5" fill="#fff" font-family='"Liberation Sans", sans-serif'>76.392</text>
<rect x="1614" y="165" width="36" height="11" fill="#0000ff"/>
<text x="1617" y="174" font-size="9.5" fill="#fff" font-family='"Liberation Sans", sans-serif'>76.002</text>
<rect x="1614" y="201" width="36" height="11" fill="#0000ff"/>
<text x="1617" y="210" font-size="9.5" fill="#fff" font-family='"Liberation Sans", sans-serif'>75.622</text>
<g clip-path="url(#cd)">
<rect x="4" y="629" width="3" height="26" fill="#00ff00"/>
<rect x="20" y="622" width="3" height="33" fill="#00ff00"/>
<rect x="36" y="621" width="3" height="34" fill="#00ff00"/>
<rect x="52" y="620" width="3" height="35" fill="#00ff00"/>
<rect x="68" y="620" width="3" height="35" fill="#00ff00"/>
<rect x="84" y="616" width="3" height="39" fill="#00ff00"/>
<rect x="100" y="617" width="3" height="38" fill="#00ff00"/>
<rect x="116" y="617" width="3" height="38" fill="#00ff00"/>
<rect x="132" y="618" width="3" height="37" fill="#00ff00"/>
<rect x="148" y="619" width="3" height="36" fill="#00ff00"/>
<rect x="164" y="619" width="3" height="36" fill="#00ff00"/>
<rect x="180" y="627" width="3" height="28" fill="#00ff00"/>
<rect x="196" y="628" width="3" height="27" fill="#00ff00"/>
<rect x="212" y="632" width="3" height="23" fill="#00ff00"/>
<rect x="228" y="632" width="3" height="23" fill="#00ff00"/>
<rect x="244" y="633" width="3" height="22" fill="#00ff00"/>
<rect x="260" y="635" width="3" height="20" fill="#00ff00"/>
<rect x="276" y="628" width="3" height="27" fill="#00ff00"/>
<rect x="292" y="624" width="3" height="31" fill="#00ff00"/>
<rect x="308" y="622" width="3" height="33" fill="#00ff00"/>
<rect x="324" y="621" width="3" height="34" fill="#00ff00"/>
<rect x="340" y="621" width="3" height="34" fill="#00ff00"/>
<rect x="356" y="628" width="3" height="27" fill="#00ff00"/>
<rect x="372" y="644" width="3" height="11" fill="#00ff00"/>
<rect x="388" y="655" width="3" height="1" fill="#00ff00"/>
<rect x="404" y="655" width="3" height="12" fill="#00ff00"/>
<rect x="420" y="655" width="3" height="23" fill="#00ff00"/>
<rect x="436" y="655" width="3" height="36" fill="#00ff00"/>
<rect x="452" y="655" width="3" height="42" fill="#00ff00"/>
<rect x="468" y="655" width="3" height="45" fill="#00ff00"/>
<rect x="484" y="655" width="3" height="44" fill="#00ff00"/>
<rect x="500" y="655" width="3" height="42" fill="#00ff00"/>
<rect x="516" y="655" width="3" height="42" fill="#00ff00"/>
<rect x="532" y="655" width="3" height="40" fill="#00ff00"/>
<rect x="548" y="655" width="3" height="35" fill="#00ff00"/>
<rect x="564" y="655" width="3" height="32" fill="#00ff00"/>
<rect x="580" y="655" width="3" height="30" fill="#00ff00"/>
<rect x="596" y="655" width="3" height="28" fill="#00ff00"/>
<rect x="612" y="655" width="3" height="25" fill="#00ff00"/>
<rect x="628" y="655" width="3" height="24" fill="#00ff00"/>
<rect x="644" y="655" width="3" height="31" fill="#00ff00"/>
<rect x="660" y="655" width="3" height="37" fill="#00ff00"/>
<rect x="676" y="655" width="3" height="44" fill="#00ff00"/>
<rect x="692" y="655" width="3" height="47" fill="#00ff00"/>
<rect x="708" y="655" width="3" height="48" fill="#00ff00"/>
<rect x="724" y="655" width="3" height="49" fill="#00ff00"/>
<rect x="740" y="655" width="3" height="52" fill="#00ff00"/>
<rect x="756" y="655" width="3" height="44" fill="#00ff00"/>
<rect x="772" y="655" width="3" height="36" fill="#00ff00"/>
<rect x="788" y="655" width="3" height="30" fill="#00ff00"/>
<rect x="804" y="655" width="3" height="26" fill="#00ff00"/>
<rect x="820" y="655" width="3" height="18" fill="#00ff00"/>
<rect x="836" y="655" width="3" height="13" fill="#00ff00"/>
<rect x="852" y="655" width="3" height="8" fill="#00ff00"/>
<rect x="868" y="655" width="3" height="2" fill="#00ff00"/>
<rect x="884" y="653" width="3" height="2" fill="#00ff00"/>
<rect x="900" y="647" width="3" height="8" fill="#00ff00"/>
<rect x="916" y="645" width="3" height="10" fill="#00ff00"/>
<rect x="932" y="637" width="3" height="18" fill="#00ff00"/>
<rect x="948" y="633" width="3" height="22" fill="#00ff00"/>
<rect x="964" y="631" width="3" height="24" fill="#00ff00"/>
<rect x="980" y="628" width="3" height="27" fill="#00ff00"/>
<rect x="996" y="627" width="3" height="28" fill="#00ff00"/>
<rect x="1012" y="622" width="3" height="33" fill="#00ff00"/>
<rect x="1028" y="619" width="3" height="36" fill="#00ff00"/>
<rect x="1044" y="624" width="3" height="31" fill="#00ff00"/>
<rect x="1060" y="627" width="3" height="28" fill="#00ff00"/>
<rect x="1076" y="628" width="3" height="27" fill="#00ff00"/>
<rect x="1092" y="631" width="3" height="24" fill="#00ff00"/>
<rect x="1108" y="627" width="3" height="28" fill="#00ff00"/>
<rect x="1124" y="626" width="3" height="29" fill="#00ff00"/>
<rect x="1140" y="622" width="3" height="33" fill="#00ff00"/>
<rect x="1156" y="623" width="3" height="32" fill="#00ff00"/>
<rect x="1172" y="624" width="3" height="31" fill="#00ff00"/>
<rect x="1188" y="623" width="3" height="32" fill="#00ff00"/>
<rect x="1204" y="619" width="3" height="36" fill="#00ff00"/>
<rect x="1220" y="617" width="3" height="38" fill="#00ff00"/>
<rect x="1236" y="616" width="3" height="39" fill="#00ff00"/>
<rect x="1252" y="616" width="3" height="39" fill="#00ff00"/>
<rect x="1268" y="618" width="3" height="37" fill="#00ff00"/>
<rect x="1284" y="617" width="3" height="38" fill="#00ff00"/>
<rect x="1300" y="622" width="3" height="33" fill="#00ff00"/>
<rect x="1316" y="622" width="3" height="33" fill="#00ff00"/>
<rect x="1332" y="623" width="3" height="32" fill="#00ff00"/>
<polyline points="5,653 21,645.9 37,639.5 53,634.5 69,630.5 85,626.5 101,623.6 117,622 133,619 149,618.4 165,618 181,619.6 197,620.6 213,621.4 229,623.4 245,625.3 261,627.3 277,628.3 293,628.5 309,628.5 325,628.1 341,628 357,628 373,629.1 389,631 405,634.9 421,638.9 437,645.9 453,655.9 469,663.8 485,672.8 501,679.8 517,686.4 533,690.4 549,693.3 565,693.7 581,693.3 597,691.3 613,689.4 629,687.4 645,686.4 661,685.8 677,686.2 693,687.2 709,689.2 725,691.2 741,694.1 757,696.1 773,696.7 789,696.7 805,696.3 821,693.3 837,688.8 853,685.4 869,680.2 885,673.8 901,668.2 917,663.8 933,659.4 949,653.9 965,648.9 981,644.9 997,640.5 1013,636.5 1029,632.5 1045,630.3 1061,627.9 1077,627.3 1093,626.9 1109,626.5 1125,625.9 1141,625.3 1157,625.5 1173,625.9 1189,625.9 1205,625.3 1221,623.4 1237,622.4 1253,620.4 1269,620 1285,619.3 1301,618.8 1317,618.8 1333,618.8" fill="none" stroke="#ff0000" stroke-width="2" stroke-linejoin="round"/>
</g>
<text x="9" y="622" font-size="9.5" fill="#000" font-family='"Liberation Sans", sans-serif'>MACD(12,26,9) 0.4296 0.4807</text>
<rect x="1613" y="611" width="1" height="1" fill="#000"/>
<text x="1616" y="620" font-size="9.5" fill="#000" font-family='"Liberation Sans", sans-serif'>0.5912</text>
<rect x="1613" y="655" width="2" height="1" fill="#000"/>
<text x="1617" y="659" font-size="9.5" fill="#000" font-family='"Liberation Sans", sans-serif'>0.00</text>
<text x="1616" y="708" font-size="9.5" fill="#000" font-family='"Liberation Sans", sans-serif'>-0.7385</text>
<text transform="translate(9,726) scale(0.97,1)" font-size="9.5" fill="#000" font-family='"Liberation Sans", sans-serif'>RSI(14) 58.4090</text>
<line x1="6" y1="733.5" x2="1612" y2="733.5" stroke="#000" stroke-width="1" stroke-dasharray="3,3"/>
<line x1="6" y1="761.5" x2="1612" y2="761.5" stroke="#000" stroke-width="1" stroke-dasharray="3,3"/>
<line x1="6" y1="794.5" x2="1612" y2="794.5" stroke="#000" stroke-width="1" stroke-dasharray="3,3"/>
<g clip-path="url(#cr)">
<polyline points="5,749.9 21,746.9 37,746.9 53,756.9 69,751.9 85,750.5 101,754.9 117,754.9 133,755.9 149,752.9 165,752.9 181,763.8 197,759.2 213,760.8 229,756.9 245,756.9 261,758.8 277,750.9 293,750.9 309,752.9 325,753.5 341,753.9 357,759.8 373,772.4 389,772.4 405,772.8 421,776.8 437,777.8 453,772.8 469,771.2 485,767.8 501,766.8 517,767.8 533,766.2 549,763.8 565,764.4 581,765 597,765 613,763.8 629,765.2 645,775.8 661,776.2 677,777.8 693,775.8 709,773.8 725,773.8 741,776.8 757,760.8 773,760.2 789,761.4 805,761.4 821,756.9 837,757.5 853,755.9 869,755.5 885,754.3 901,752.9 917,755.9 933,748.9 949,752.5 965,752.9 981,751.5 997,752.9 1013,747.9 1029,749.9 1045,758.8 1061,758.8 1077,758.4 1093,757.9 1109,750.5 1125,749.9 1141,749.9 1157,753.9 1173,753.9 1189,750.5 1205,746.9 1221,747.5 1237,748.3 1253,751.5 1269,751.5 1285,748.7 1301,759.4 1317,753.7 1333,752.6" fill="none" stroke="#1e90ff" stroke-width="2" stroke-linejoin="round"/>
</g>
<rect x="1613" y="714" width="1" height="1" fill="#000"/>
<rect x="1613" y="807" width="1" height="1" fill="#000"/>
<text x="1615" y="724.2" font-size="9.5" fill="#000" font-family='"Liberation Sans", sans-serif'>100</text>
<text x="1615" y="736.7" font-size="9.5" fill="#000" font-family='"Liberation Sans", sans-serif'>80</text>
<text x="1615" y="764.7" font-size="9.5" fill="#000" font-family='"Liberation Sans", sans-serif'>50</text>
<text x="1615" y="797.7" font-size="9.5" fill="#000" font-family='"Liberation Sans", sans-serif'>15</text>
<text x="1615" y="804.7" font-size="9.5" fill="#000" font-family='"Liberation Sans", sans-serif'>0</text>
<rect x="5" y="809" width="1" height="3" fill="#000"/>
<text transform="translate(4.4,821) scale(0.955,1)" font-size="9.5" fill="#000" font-family='"Liberation Sans", sans-serif'>16 Jun 2023</text>
<rect x="69" y="809" width="1" height="3" fill="#000"/>
<text transform="translate(68.4,821) scale(0.955,1)" font-size="9.5" fill="#000" font-family='"Liberation Sans", sans-serif'>19 Jun 04:00</text>
<rect x="133" y="809" width="1" height="3" fill="#000"/>
<text transform="translate(132.4,821) scale(0.955,1)" font-size="9.5" fill="#000" font-family='"Liberation Sans", sans-serif'>20 Jun 00:00</text>
<rect x="197" y="809" width="1" height="3" fill="#000"/>
<text transform="translate(196.4,821) scale(0.955,1)" font-size="9.5" fill="#000" font-family='"Liberation Sans", sans-serif'>20 Jun 16:00</text>
<rect x="261" y="809" width="1" height="3" fill="#000"/>
<text transform="translate(260.4,821) scale(0.955,1)" font-size="9.5" fill="#000" font-family='"Liberation Sans", sans-serif'>21 Jun 08:00</text>
<rect x="325" y="809" width="1" height="3" fill="#000"/>
<text transform="translate(324.4,821) scale(0.955,1)" font-size="9.5" fill="#000" font-family='"Liberation Sans", sans-serif'>22 Jun 00:00</text>
<rect x="389" y="809" width="1" height="3" fill="#000"/>
<text transform="translate(388.4,821) scale(0.955,1)" font-size="9.5" fill="#000" font-family='"Liberation Sans", sans-serif'>22 Jun 16:00</text>
<rect x="453" y="809" width="1" height="3" fill="#000"/>
<text transform="translate(452.4,821) scale(0.955,1)" font-size="9.5" fill="#000" font-family='"Liberation Sans", sans-serif'>23 Jun 08:00</text>
<rect x="517" y="809" width="1" height="3" fill="#000"/>
<text transform="translate(516.4,821) scale(0.955,1)" font-size="9.5" fill="#000" font-family='"Liberation Sans", sans-serif'>26 Jun 00:00</text>
<rect x="581" y="809" width="1" height="3" fill="#000"/>
<text transform="translate(580.4,821) scale(0.955,1)" font-size="9.5" fill="#000" font-family='"Liberation Sans", sans-serif'>26 Jun 16:00</text>
<rect x="645" y="809" width="1" height="3" fill="#000"/>
<text transform="translate(644.4,821) scale(0.955,1)" font-size="9.5" fill="#000" font-family='"Liberation Sans", sans-serif'>27 Jun 08:00</text>
<rect x="709" y="809" width="1" height="3" fill="#000"/>
<text transform="translate(708.4,821) scale(0.955,1)" font-size="9.5" fill="#000" font-family='"Liberation Sans", sans-serif'>28 Jun 00:00</text>
<rect x="773" y="809" width="1" height="3" fill="#000"/>
<text transform="translate(772.4,821) scale(0.955,1)" font-size="9.5" fill="#000" font-family='"Liberation Sans", sans-serif'>28 Jun 16:00</text>
<rect x="837" y="809" width="1" height="3" fill="#000"/>
<text transform="translate(836.4,821) scale(0.955,1)" font-size="9.5" fill="#000" font-family='"Liberation Sans", sans-serif'>29 Jun 12:00</text>
<rect x="901" y="809" width="1" height="3" fill="#000"/>
<text transform="translate(900.4,821) scale(0.955,1)" font-size="9.5" fill="#000" font-family='"Liberation Sans", sans-serif'>30 Jun 04:00</text>
<rect x="965" y="809" width="1" height="3" fill="#000"/>
<text transform="translate(964.4,821) scale(0.955,1)" font-size="9.5" fill="#000" font-family='"Liberation Sans", sans-serif'>30 Jun 20:00</text>
<rect x="1029" y="809" width="1" height="3" fill="#000"/>
<text transform="translate(1028.4,821) scale(0.955,1)" font-size="9.5" fill="#000" font-family='"Liberation Sans", sans-serif'>3 Jul 12:00</text>
<rect x="1093" y="809" width="1" height="3" fill="#000"/>
<text transform="translate(1092.4,821) scale(0.955,1)" font-size="9.5" fill="#000" font-family='"Liberation Sans", sans-serif'>4 Jul 04:00</text>
<rect x="1157" y="809" width="1" height="3" fill="#000"/>
<text transform="translate(1156.4,821) scale(0.955,1)" font-size="9.5" fill="#000" font-family='"Liberation Sans", sans-serif'>5 Jul 00:00</text>
<rect x="1221" y="809" width="1" height="3" fill="#000"/>
<text transform="translate(1220.4,821) scale(0.955,1)" font-size="9.5" fill="#000" font-family='"Liberation Sans", sans-serif'>5 Jul 16:00</text>
<rect x="1285" y="809" width="1" height="3" fill="#000"/>
<text transform="translate(1284.4,821) scale(0.955,1)" font-size="9.5" fill="#000" font-family='"Liberation Sans", sans-serif'>6 Jul 08:00</text>
</svg>
</body></html>
